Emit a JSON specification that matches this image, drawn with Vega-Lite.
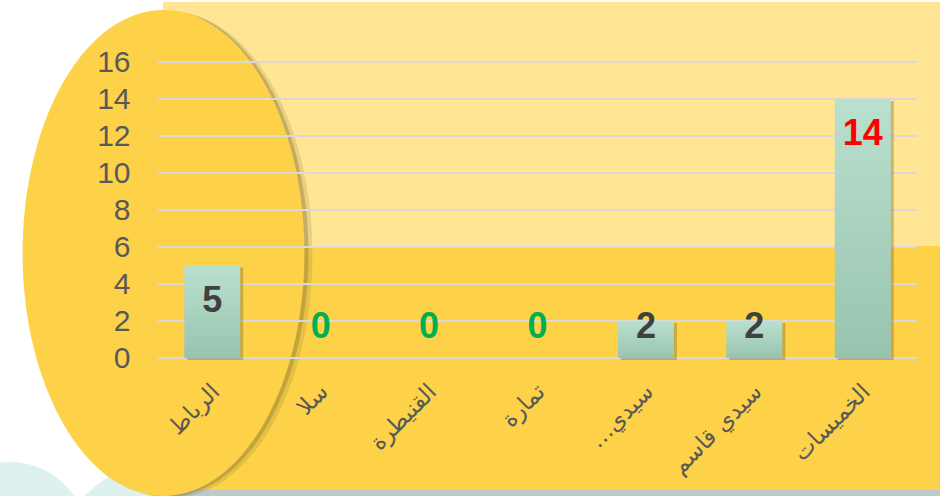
{
  "$schema": "https://vega.github.io/schema/vega-lite/v6.json",
  "width": 759,
  "height": 296,
  "autosize": {"type": "none"},
  "padding": {"left": 158, "top": 62, "right": 23, "bottom": 138},
  "background": "#FFFFFF",
  "config": {
    "view": {"stroke": null},
    "axisY": {"grid": false, "domain": false, "ticks": false, "labelFontSize": 30, "labelColor": "#595959", "labelFont": "Liberation Sans", "labelPadding": 28},
    "axisX": {"grid": false, "domain": false, "ticks": false, "labelFontSize": 23, "labelColor": "#595959", "labelFont": "DejaVu Sans", "labelPadding": 22, "labelAngle": -45, "labelOffset": -4}
  },
  "datasets": {
    "cities": [
      {"city": "الرباط", "value": 5},
      {"city": "سلا", "value": 0},
      {"city": "القنيطرة", "value": 0},
      {"city": "تمارة", "value": 0},
      {"city": "…سيدي", "value": 2},
      {"city": "سيدي قاسم", "value": 2},
      {"city": "الخميسات", "value": 14}
    ],
    "grid": [{"tick": 0}, {"tick": 2}, {"tick": 4}, {"tick": 6}, {"tick": 8}, {"tick": 10}, {"tick": 12}, {"tick": 14}, {"tick": 16}],
    "decor": [{"item": "decor"}]
  },
  "layer": [
    {
      "data": {"name": "decor"},
      "mark": {"type": "point", "shape": "circle", "size": 24336, "filled": true, "color": "#DDF1EF", "opacity": 1, "strokeWidth": 0, "clip": false},
      "encoding": {
        "x": {"datum": -1.365, "type": "quantitative", "scale": {"domain": [0, 7], "nice": false, "zero": false}, "axis": null},
        "y": {"datum": -9.84, "type": "quantitative", "scale": {"domain": [0, 16], "nice": false, "zero": true}, "axis": {"values": [0, 2, 4, 6, 8, 10, 12, 14, 16], "orient": "left", "zindex": 1, "title": null}}
      }
    },
    {
      "data": {"name": "decor"},
      "mark": {"type": "point", "shape": "circle", "size": 57600, "filled": true, "color": "#DDF1EF", "opacity": 1, "strokeWidth": 0, "clip": false},
      "encoding": {
        "x": {"datum": 0.111, "type": "quantitative", "scale": {"domain": [0, 7], "nice": false, "zero": false}, "axis": null},
        "y": {"datum": -12.0, "type": "quantitative", "scale": {"domain": [0, 16], "nice": false, "zero": true}, "axis": {"values": [0, 2, 4, 6, 8, 10, 12, 14, 16], "orient": "left", "zindex": 1, "title": null}}
      }
    },
    {
      "data": {"name": "decor"},
      "mark": {"type": "rect", "color": "#BCCACB", "clip": false},
      "encoding": {
        "x": {"datum": 0.046, "type": "quantitative", "scale": {"domain": [0, 7], "nice": false, "zero": false}, "axis": null},
        "x2": {"datum": 7.4},
        "y": {"datum": -7.6, "type": "quantitative", "scale": {"domain": [0, 16], "nice": false, "zero": true}, "axis": {"values": [0, 2, 4, 6, 8, 10, 12, 14, 16], "orient": "left", "zindex": 1, "title": null}},
        "y2": {"datum": -7.14}
      }
    },
    {
      "data": {"name": "decor"},
      "mark": {"type": "rect", "color": "#FFE594", "clip": false},
      "encoding": {
        "x": {"datum": 0.046, "type": "quantitative", "scale": {"domain": [0, 7], "nice": false, "zero": false}, "axis": null},
        "x2": {"datum": 7.4},
        "y": {"datum": 6.05, "type": "quantitative", "scale": {"domain": [0, 16], "nice": false, "zero": true}, "axis": {"values": [0, 2, 4, 6, 8, 10, 12, 14, 16], "orient": "left", "zindex": 1, "title": null}},
        "y2": {"datum": 19.24}
      }
    },
    {
      "data": {"name": "decor"},
      "mark": {"type": "rect", "color": "#FDD248", "clip": false},
      "encoding": {
        "x": {"datum": 0.046, "type": "quantitative", "scale": {"domain": [0, 7], "nice": false, "zero": false}, "axis": null},
        "x2": {"datum": 7.4},
        "y": {"datum": -7.14, "type": "quantitative", "scale": {"domain": [0, 16], "nice": false, "zero": true}, "axis": {"values": [0, 2, 4, 6, 8, 10, 12, 14, 16], "orient": "left", "zindex": 1, "title": null}},
        "y2": {"datum": 6.05}
      }
    },
    {
      "data": {"name": "decor"},
      "mark": {"type": "point", "shape": "M0,-1A0.58,1,0,1,1,0,1A0.58,1,0,1,1,0,-1Z", "size": 236196, "filled": true, "color": "#8C7A35", "opacity": 0.2, "strokeWidth": 0, "xOffset": 8, "yOffset": 2, "clip": false},
      "encoding": {
        "x": {"datum": 0.0507, "type": "quantitative", "scale": {"domain": [0, 7], "nice": false, "zero": false}, "axis": null},
        "y": {"datum": 5.676, "type": "quantitative", "scale": {"domain": [0, 16], "nice": false, "zero": true}, "axis": {"values": [0, 2, 4, 6, 8, 10, 12, 14, 16], "orient": "left", "zindex": 1, "title": null}}
      }
    },
    {
      "data": {"name": "decor"},
      "mark": {"type": "point", "shape": "M0,-1A0.58,1,0,1,1,0,1A0.58,1,0,1,1,0,-1Z", "size": 236196, "filled": true, "color": "#8C7A35", "opacity": 0.4, "strokeWidth": 0, "xOffset": 4, "yOffset": 1, "clip": false},
      "encoding": {
        "x": {"datum": 0.0507, "type": "quantitative", "scale": {"domain": [0, 7], "nice": false, "zero": false}, "axis": null},
        "y": {"datum": 5.676, "type": "quantitative", "scale": {"domain": [0, 16], "nice": false, "zero": true}, "axis": {"values": [0, 2, 4, 6, 8, 10, 12, 14, 16], "orient": "left", "zindex": 1, "title": null}}
      }
    },
    {
      "data": {"name": "decor"},
      "mark": {"type": "point", "shape": "M0,-1A0.58,1,0,1,1,0,1A0.58,1,0,1,1,0,-1Z", "size": 236196, "filled": true, "color": "#FDD248", "opacity": 1, "strokeWidth": 0, "clip": false},
      "encoding": {
        "x": {"datum": 0.0507, "type": "quantitative", "scale": {"domain": [0, 7], "nice": false, "zero": false}, "axis": null},
        "y": {"datum": 5.676, "type": "quantitative", "scale": {"domain": [0, 16], "nice": false, "zero": true}, "axis": {"values": [0, 2, 4, 6, 8, 10, 12, 14, 16], "orient": "left", "zindex": 1, "title": null}}
      }
    },
    {
      "data": {"name": "grid"},
      "mark": {"type": "rule", "color": "#D9D9D9", "strokeWidth": 2},
      "encoding": {
        "y": {"field": "tick", "type": "quantitative", "scale": {"domain": [0, 16], "nice": false, "zero": true}, "axis": {"values": [0, 2, 4, 6, 8, 10, 12, 14, 16], "orient": "left", "zindex": 1, "title": null}}
      }
    },
    {
      "data": {"name": "cities"},
      "mark": {"type": "bar", "color": "#6E5E22", "opacity": 0.35, "xOffset": 3, "yOffset": 2},
      "encoding": {
        "x": {"field": "city", "type": "nominal", "sort": null, "scale": {"paddingInner": 0.4835, "paddingOuter": 0.2418}, "axis": null},
        "y": {"field": "value", "type": "quantitative", "scale": {"domain": [0, 16], "nice": false, "zero": true}, "axis": {"values": [0, 2, 4, 6, 8, 10, 12, 14, 16], "orient": "left", "zindex": 1, "title": null}}
      }
    },
    {
      "data": {"name": "cities"},
      "mark": {"type": "bar", "color": {"gradient": "linear", "x1": 0, "y1": 0, "x2": 0, "y2": 1, "stops": [{"offset": 0, "color": "#BAE0CE"}, {"offset": 1, "color": "#98C4AF"}]}},
      "encoding": {
        "x": {"field": "city", "type": "nominal", "sort": null, "scale": {"paddingInner": 0.4835, "paddingOuter": 0.2418}, "axis": {"orient": "bottom", "zindex": 1, "title": null}},
        "y": {"field": "value", "type": "quantitative", "scale": {"domain": [0, 16], "nice": false, "zero": true}, "axis": {"values": [0, 2, 4, 6, 8, 10, 12, 14, 16], "orient": "left", "zindex": 1, "title": null}}
      }
    },
    {
      "data": {"name": "cities"},
      "transform": [{"calculate": "max(datum.value - 1.9, 1.7)", "as": "labelY"}],
      "mark": {"type": "text", "font": "Liberation Sans", "fontWeight": "bold", "fontSize": 36, "baseline": "middle", "align": "center"},
      "encoding": {
        "x": {"field": "city", "type": "nominal", "sort": null, "scale": {"paddingInner": 0.4835, "paddingOuter": 0.2418}, "axis": null},
        "y": {"field": "labelY", "type": "quantitative", "scale": {"domain": [0, 16], "nice": false, "zero": true}, "axis": {"values": [0, 2, 4, 6, 8, 10, 12, 14, 16], "orient": "left", "zindex": 1, "title": null}},
        "text": {"field": "value", "type": "quantitative"},
        "color": {"condition": [{"test": "datum.value == 0", "value": "#00B050"}, {"test": "datum.value >= 10", "value": "#FF0000"}], "value": "#404040"}
      }
    }
  ],
  "resolve": {"scale": {"x": "independent"}}
}
